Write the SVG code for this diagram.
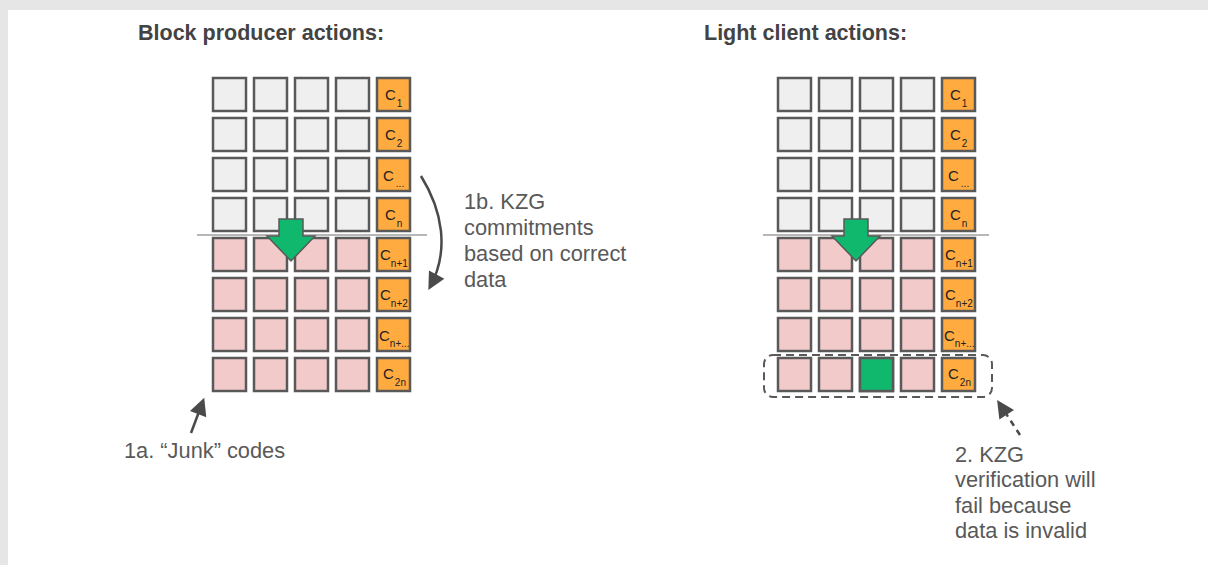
<svg xmlns="http://www.w3.org/2000/svg" width="1208" height="565" viewBox="0 0 1208 565">
<style>
.cell{stroke:#595959;stroke-width:2.5}
.g{fill:#efefef}
.p{fill:#f2caca}
.o{fill:#ffab40}
.gr{fill:#0fb86d}
.ct{font-family:"Liberation Sans",Arial,sans-serif;font-size:15px;fill:#222}
.sub{font-size:10px}
.title{font-family:"Liberation Sans",Arial,sans-serif;font-size:21.5px;font-weight:bold;fill:#434343}
.lbl{font-family:"Liberation Sans",Arial,sans-serif;font-size:21.8px;fill:#595959}
.sep{stroke:#b7b7b7;stroke-width:2}
.conn{fill:none;stroke:#4a4a4a;stroke-width:2.5}
</style>
<defs>
<marker id="ah" viewBox="0 0 10 10" refX="8" refY="5" markerWidth="8" markerHeight="7" orient="auto" markerUnits="strokeWidth">
<path d="M0,0 L10,5 L0,10 z" fill="#4a4a4a"/>
</marker>
<g id="row-g">
<rect class="cell g" x="0" y="0" width="33" height="33"/>
<rect class="cell g" x="41" y="0" width="33" height="33"/>
<rect class="cell g" x="82" y="0" width="33" height="33"/>
<rect class="cell g" x="123" y="0" width="33" height="33"/>
<rect class="cell o" x="164" y="0" width="33" height="33"/>
</g>
<g id="row-p">
<rect class="cell p" x="0" y="0" width="33" height="33"/>
<rect class="cell p" x="41" y="0" width="33" height="33"/>
<rect class="cell p" x="82" y="0" width="33" height="33"/>
<rect class="cell p" x="123" y="0" width="33" height="33"/>
<rect class="cell o" x="164" y="0" width="33" height="33"/>
</g>
<path id="garrow" d="M-12,-17 L12,-17 L12,0 L24,0 L0,25 L-24,0 L-12,0 z" fill="#0fb86d" stroke="#595959" stroke-width="1.5"/>
</defs>
<rect x="0" y="0" width="1208" height="565" fill="#e6e6e6"/>
<rect x="8" y="10" width="1200" height="555" fill="#ffffff"/>

<text class="title" x="138" y="40">Block producer actions:</text>
<text class="title" x="704" y="40">Light client actions:</text>

<g id="left-grid">
<use href="#row-g" x="213" y="78"/>
<use href="#row-g" x="213" y="118"/>
<use href="#row-g" x="213" y="158"/>
<use href="#row-g" x="213" y="198"/>
<use href="#row-p" x="213" y="238"/>
<use href="#row-p" x="213" y="278"/>
<use href="#row-p" x="213" y="318"/>
<use href="#row-p" x="213" y="358"/>
<line class="sep" x1="197" y1="235" x2="427" y2="235"/>
<use href="#garrow" x="291" y="236"/>
<text class="ct" x="385" y="100">C<tspan class="sub" dx="1" dy="7">1</tspan></text>
<text class="ct" x="385" y="140">C<tspan class="sub" dx="1" dy="7">2</tspan></text>
<text class="ct" x="383" y="181">C<tspan class="sub" dx="2" dy="6">...</tspan></text>
<text class="ct" x="385" y="220">C<tspan class="sub" dx="1" dy="7">n</tspan></text>
<text class="ct" x="380" y="260">C<tspan class="sub" dx="0" dy="7">n+1</tspan></text>
<text class="ct" x="380" y="300">C<tspan class="sub" dx="0" dy="7">n+2</tspan></text>
<text class="ct" x="379" y="341">C<tspan class="sub" dx="0" dy="6">n+...</tspan></text>
<text class="ct" x="383" y="379">C<tspan class="sub" dx="1" dy="7">2n</tspan></text>
</g>

<g id="right-grid">
<use href="#row-g" x="778" y="78"/>
<use href="#row-g" x="778" y="118"/>
<use href="#row-g" x="778" y="158"/>
<use href="#row-g" x="778" y="198"/>
<use href="#row-p" x="778" y="238"/>
<use href="#row-p" x="778" y="278"/>
<use href="#row-p" x="778" y="318"/>
<use href="#row-p" x="778" y="358"/>
<rect class="cell gr" x="860" y="358" width="33" height="33"/>
<line class="sep" x1="763" y1="235" x2="989" y2="235"/>
<use href="#garrow" x="856" y="236"/>
<text class="ct" x="950" y="100">C<tspan class="sub" dx="1" dy="7">1</tspan></text>
<text class="ct" x="950" y="140">C<tspan class="sub" dx="1" dy="7">2</tspan></text>
<text class="ct" x="948" y="181">C<tspan class="sub" dx="2" dy="6">...</tspan></text>
<text class="ct" x="950" y="220">C<tspan class="sub" dx="1" dy="7">n</tspan></text>
<text class="ct" x="945" y="260">C<tspan class="sub" dx="0" dy="7">n+1</tspan></text>
<text class="ct" x="945" y="300">C<tspan class="sub" dx="0" dy="7">n+2</tspan></text>
<text class="ct" x="944" y="341">C<tspan class="sub" dx="0" dy="6">n+...</tspan></text>
<text class="ct" x="948" y="379">C<tspan class="sub" dx="1" dy="7">2n</tspan></text>
</g>

<g id="highlight">
<rect x="764" y="355" width="228" height="42" rx="9" fill="none" stroke="#595959" stroke-width="2" stroke-dasharray="8,5"/>
</g>

<g id="label-1b">
<text class="lbl" x="464" y="209">1b. KZG</text>
<text class="lbl" x="464" y="235">commitments</text>
<text class="lbl" x="464" y="261">based on correct</text>
<text class="lbl" x="464" y="287">data</text>
</g>
<g id="label-1a">
<text class="lbl" x="124" y="458">1a. “Junk” codes</text>
</g>
<g id="label-2">
<text class="lbl" x="955" y="462">2. KZG</text>
<text class="lbl" x="955" y="487">verification will</text>
<text class="lbl" x="955" y="513">fail because</text>
<text class="lbl" x="955" y="538">data is invalid</text>
</g>

<g id="connectors">
<path class="conn" d="M421,176 C442,210 450,250 430,287" marker-end="url(#ah)"/>
<path class="conn" d="M191,433 L203,401" marker-end="url(#ah)"/>
<path class="conn" d="M1020,435 L999,403" stroke-dasharray="6,5" marker-end="url(#ah)"/>
</g>
</svg>
